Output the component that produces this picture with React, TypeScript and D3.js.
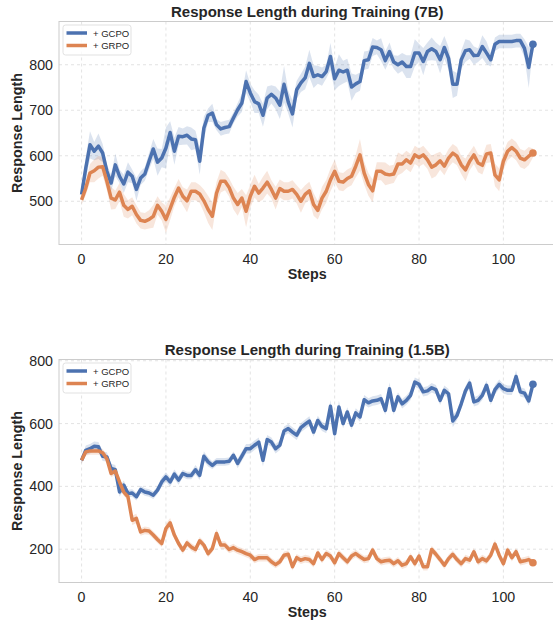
import React from "react";
import * as d3 from "d3";

// steps 0..107
const steps = d3.range(0, 108);

// 7B run
const gcpo7b = [
  515, 573, 624, 610, 621, 606, 566, 540, 580, 555,
  538, 564, 555, 526, 551, 560, 588, 615, 586, 595,
  617, 651, 610, 643, 642, 645, 637, 635, 588, 661,
  689, 694, 668, 659, 662, 664, 683, 701, 716, 763,
  738, 719, 714, 689, 727, 735, 727, 711, 757, 718,
  692, 745, 760, 771, 803, 774, 778, 774, 785, 818,
  769, 788, 784, 788, 751, 758, 763, 809, 811, 839,
  838, 833, 809, 829, 806, 800, 806, 796, 796, 826,
  826, 807, 829, 835, 829, 811, 838, 814, 757, 757,
  811, 831, 833, 820, 821, 840, 826, 811, 845, 851,
  851, 851, 851, 853, 853, 836, 794, 845,
];
const gcpo7bSpread = [
  8, 25, 30, 20, 28, 20, 15, 18, 25, 15,
  20, 22, 15, 25, 15, 15, 18, 22, 30, 20,
  45, 25, 30, 20, 18, 20, 25, 20, 30, 25,
  15, 20, 12, 15, 15, 15, 12, 15, 20, 25,
  20, 25, 20, 25, 25, 20, 25, 30, 40, 25,
  30, 20, 20, 25, 30, 25, 20, 20, 15, 30,
  25, 35, 25, 25, 30, 20, 20, 20, 20, 20,
  15, 25, 20, 20, 15, 20, 20, 25, 25, 30,
  20, 30, 20, 25, 20, 30, 25, 25, 30, 25,
  20, 25, 20, 20, 15, 25, 25, 15, 15, 15,
  15, 15, 15, 15, 15, 20, 45, 10,
];
const grpo7b = [
  503, 529, 562, 567, 575, 576, 544, 507, 503, 520,
  491, 482, 489, 471, 458, 456, 460, 467, 491, 478,
  460, 484, 509, 529, 511, 501, 522, 522, 516, 501,
  482, 467, 518, 544, 544, 530, 507, 493, 507, 478,
  511, 533, 518, 529, 542, 526, 507, 528, 522, 522,
  526, 515, 500, 515, 523, 493, 480, 507, 522, 547,
  566, 544, 542, 550, 555, 577, 602, 562, 537, 523,
  566, 566, 560, 558, 560, 582, 582, 591, 584, 602,
  596, 602, 591, 575, 580, 589, 577, 595, 606, 599,
  580, 569, 588, 602, 584, 579, 604, 606, 558, 547,
  588, 610, 618, 610, 595, 591, 599, 606,
];
const grpo7bSpread = [
  10, 15, 20, 25, 25, 20, 20, 25, 20, 20,
  25, 20, 20, 20, 18, 18, 20, 25, 20, 20,
  30, 25, 20, 20, 20, 25, 20, 20, 20, 25,
  30, 30, 25, 25, 20, 20, 25, 25, 20, 35,
  25, 25, 20, 25, 25, 20, 25, 20, 20, 20,
  20, 20, 25, 20, 20, 25, 20, 25, 25, 25,
  25, 20, 20, 20, 20, 25, 35, 25, 25, 25,
  20, 20, 25, 20, 20, 25, 20, 20, 20, 20,
  20, 20, 20, 25, 25, 20, 20, 20, 20, 20,
  20, 25, 20, 20, 20, 20, 20, 20, 25, 25,
  20, 20, 20, 20, 20, 20, 20, 10,
];

// 1.5B run
const gcpo15b = [
  483, 515, 520, 528, 526, 496, 494, 457, 453, 382,
  404, 377, 379, 367, 390, 382, 379, 372, 388, 414,
  430, 414, 439, 420, 441, 435, 435, 453, 435, 496,
  478, 467, 478, 478, 478, 480, 499, 473, 496, 520,
  520, 531, 541, 483, 549, 541, 520, 531, 576, 584,
  573, 563, 587, 598, 608, 573, 610, 591, 584, 655,
  568, 653, 600, 637, 595, 634, 621, 676, 666, 672,
  674, 679, 642, 711, 642, 685, 663, 674, 690, 732,
  725, 701, 704, 714, 708, 674, 706, 695, 608, 626,
  663, 704, 729, 669, 674, 690, 722, 674, 708, 725,
  711, 706, 706, 750, 701, 697, 672, 725,
];
const gcpo15bSpread = [
  10, 15, 15, 15, 15, 15, 15, 15, 15, 15,
  15, 12, 12, 12, 12, 12, 12, 12, 12, 15,
  15, 15, 15, 15, 12, 12, 12, 15, 15, 15,
  15, 12, 12, 12, 12, 12, 12, 15, 15, 15,
  15, 15, 15, 20, 15, 15, 15, 15, 15, 15,
  15, 15, 15, 15, 15, 15, 15, 15, 15, 20,
  25, 20, 15, 15, 15, 15, 15, 15, 15, 15,
  15, 15, 15, 20, 15, 15, 15, 15, 15, 15,
  15, 15, 15, 15, 15, 15, 15, 15, 20, 15,
  15, 15, 15, 15, 15, 15, 15, 15, 15, 15,
  15, 15, 15, 20, 15, 15, 15, 10,
];
const grpo15b = [
  483, 510, 513, 513, 513, 507, 488, 441, 449, 414,
  382, 367, 292, 298, 255, 260, 258, 245, 231, 218,
  266, 284, 245, 218, 197, 220, 207, 199, 227, 213,
  186, 202, 250, 213, 213, 199, 205, 197, 192, 186,
  181, 167, 173, 173, 173, 160, 151, 160, 181, 184,
  144, 173, 165, 170, 167, 154, 188, 167, 186, 178,
  157, 186, 173, 160, 178, 186, 176, 167, 170, 197,
  170, 160, 163, 165, 154, 163, 149, 154, 176, 154,
  178, 144, 144, 199, 184, 167, 149, 170, 184, 167,
  154, 170, 165, 192, 160, 170, 163, 181, 216, 181,
  154, 197, 173, 192, 160, 163, 167, 157,
];
const grpo15bSpread = [
  10, 12, 12, 12, 12, 12, 12, 12, 12, 12,
  12, 12, 15, 15, 12, 12, 12, 12, 12, 12,
  15, 15, 12, 12, 12, 12, 12, 12, 12, 12,
  12, 12, 15, 12, 12, 12, 12, 12, 12, 12,
  12, 12, 12, 12, 12, 12, 12, 12, 12, 12,
  12, 12, 12, 12, 12, 12, 12, 12, 12, 12,
  12, 12, 12, 12, 12, 12, 12, 12, 12, 12,
  12, 12, 12, 12, 12, 12, 12, 12, 12, 12,
  12, 12, 12, 12, 12, 12, 12, 12, 12, 12,
  12, 12, 12, 12, 12, 12, 12, 12, 15, 12,
  12, 12, 12, 12, 12, 12, 12, 8,
];

const xTicks = [0, 20, 40, 60, 80, 100];
const yTicks7b = [500, 600, 700, 800];
const yTicks15b = [200, 400, 600, 800];
const seriesNames = ["+ GCPO", "+ GRPO"];

const BLUE = "#4C72B0";
const ORANGE = "#DD8452";
const FONT = "'Liberation Sans', Arial, Helvetica, sans-serif";

const left = 59;
const right = 555.5;
const x = d3.scaleLinear().domain([-5.35, 112.35]).range([left, right]);

type PanelProps = {
  id: string;
  title: string;
  top: number;
  bottom: number;
  yDomain: [number, number];
  yTicks: number[];
  series: { values: number[]; spread: number[]; color: string }[];
};

function Panel({ id, title, top, bottom, yDomain, yTicks, series }: PanelProps) {
  const y = d3.scaleLinear().domain(yDomain).range([bottom, top]);
  const midY = (top + bottom) / 2;
  const midX = (left + right) / 2;

  return (
    <g>
      <defs>
        <clipPath id={"clip-" + id}>
          <rect x={left} y={top} width={right - left} height={bottom - top} />
        </clipPath>
      </defs>
      {/* grid */}
      {xTicks.map((t) => (
        <line key={"gx" + t} x1={x(t)} x2={x(t)} y1={top} y2={bottom}
          stroke="#dcdcdc" strokeWidth={0.8} strokeDasharray="3,3" />
      ))}
      {yTicks.map((t) => (
        <line key={"gy" + t} x1={left} x2={right} y1={y(t)} y2={y(t)}
          stroke="#dcdcdc" strokeWidth={0.8} strokeDasharray="3,3" />
      ))}
      <g clipPath={`url(#clip-${id})`}>
        {series.map((s, i) => {
          const area = d3.area<number>()
            .x((d) => x(d))
            .y0((d) => y(s.values[d] - s.spread[d]))
            .y1((d) => y(s.values[d] + s.spread[d]));
          return <path key={"a" + i} d={area(steps) || ""} fill={s.color} opacity={0.2} />;
        })}
        {series.map((s, i) => {
          const line = d3.line<number>()
            .x((d) => x(d))
            .y((d) => y(s.values[d]));
          const last = steps[steps.length - 1];
          return (
            <g key={"l" + i}>
              <path d={line(steps) || ""} fill="none" stroke={s.color}
                strokeWidth={3.5} strokeLinejoin="round" />
              <circle cx={x(last)} cy={y(s.values[last])} r={3.8} fill={s.color} />
            </g>
          );
        })}
      </g>
      {/* frame */}
      <rect x={left} y={top} width={right - left} height={bottom - top}
        fill="none" stroke="#cccccc" strokeWidth={1} />
      {/* ticks */}
      {xTicks.map((t) => (
        <text key={"tx" + t} x={x(t)} y={bottom + 19} textAnchor="middle"
          fontFamily={FONT} fontSize={14.2} fill="#262626">{t}</text>
      ))}
      {yTicks.map((t) => (
        <text key={"ty" + t} x={left - 6} y={y(t) + 5} textAnchor="end"
          fontFamily={FONT} fontSize={14.2} fill="#262626">{t}</text>
      ))}
      <text x={midX} y={bottom + 34.5} textAnchor="middle" fontFamily={FONT}
        fontSize={14.3} fontWeight="bold" fill="#262626">Steps</text>
      <text transform={`translate(22,${midY}) rotate(-90)`} textAnchor="middle"
        fontFamily={FONT} fontSize={14.3} fontWeight="bold" fill="#262626">Response Length</text>
      <text x={midX} y={top - 5} textAnchor="middle" fontFamily={FONT}
        fontSize={15} fontWeight="bold" fill="#262626">{title}</text>
      {/* legend */}
      <rect x={left + 4} y={top + 3.5} width={68} height={30} rx={2.5}
        fill="white" fillOpacity={0.8} stroke="#d9d9d9" strokeWidth={0.8} />
      {series.map((s, i) => (
        <g key={"lg" + i}>
          <line x1={left + 7.5} x2={left + 28} y1={top + 11.5 + i * 12.5} y2={top + 11.5 + i * 12.5}
            stroke={s.color} strokeWidth={3.5} />
          <text x={left + 34} y={top + 15 + i * 12.5} fontFamily={FONT} fontSize={9.5}
            fill="#262626">{seriesNames[i]}</text>
        </g>
      ))}
    </g>
  );
}

export default function App() {
  return (
    <svg width={553} height={624} style={{ position: "absolute", left: 0, top: 0, background: "white" }}>
      <Panel
        id="p7b"
        title="Response Length during Training (7B)"
        top={21.5}
        bottom={244.5}
        yDomain={[405, 895]}
        yTicks={yTicks7b}
        series={[
          { values: gcpo7b, spread: gcpo7bSpread, color: BLUE },
          { values: grpo7b, spread: grpo7bSpread, color: ORANGE },
        ]}
      />
      <Panel
        id="p15b"
        title="Response Length during Training (1.5B)"
        top={359.5}
        bottom={582.5}
        yDomain={[94, 804]}
        yTicks={yTicks15b}
        series={[
          { values: gcpo15b, spread: gcpo15bSpread, color: BLUE },
          { values: grpo15b, spread: grpo15bSpread, color: ORANGE },
        ]}
      />
    </svg>
  );
}
